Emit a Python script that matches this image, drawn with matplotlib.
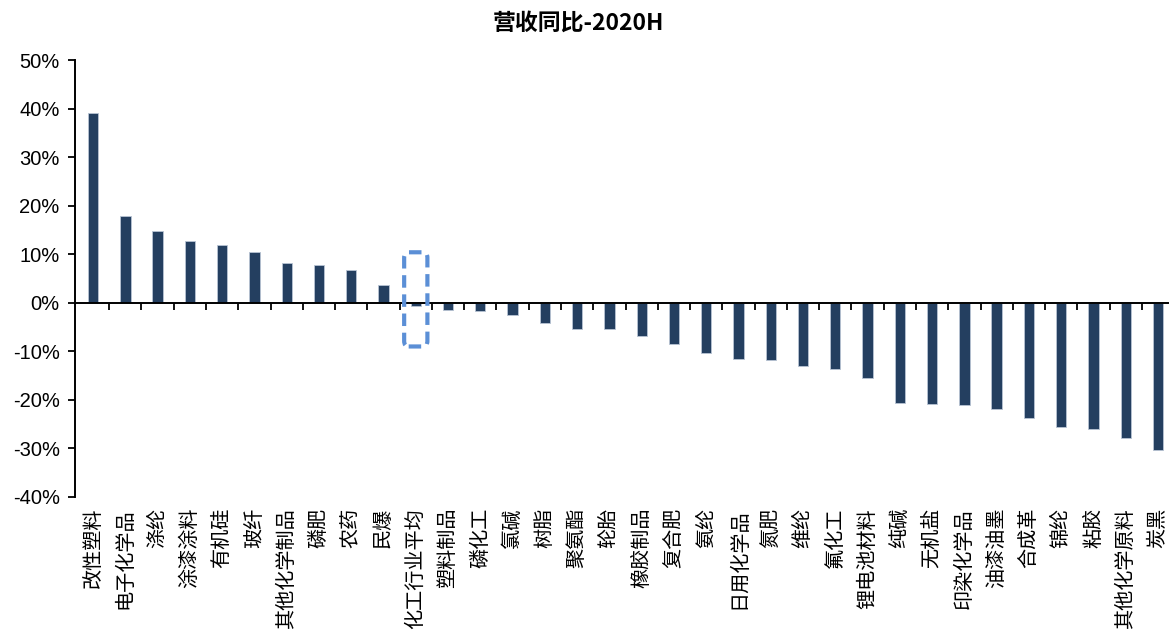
import matplotlib
matplotlib.use("Agg")
import matplotlib.pyplot as plt
from matplotlib.patches import FancyBboxPatch
from matplotlib.ticker import FuncFormatter, FixedLocator
import matplotlib.transforms as mtransforms

plt.rcParams['font.family'] = ['Noto Sans CJK SC', 'DejaVu Sans']

categories = [
    "改性塑料", "电子化学品", "涤纶", "涂漆涂料", "有机硅", "玻纤", "其他化学制品",
    "磷肥", "农药", "民爆", "化工行业平均", "塑料制品", "磷化工", "氯碱", "树脂",
    "聚氨酯", "轮胎", "橡胶制品", "复合肥", "氨纶", "日用化学品", "氮肥", "维纶",
    "氟化工", "锂电池材料", "纯碱", "无机盐", "印染化学品", "油漆油墨", "合成革",
    "锦纶", "粘胶", "其他化学原料", "炭黑",
]
revenue_yoy = [
    39.1, 17.9, 14.7, 12.8, 11.9, 10.5, 8.1, 7.8, 6.8, 3.6, -0.7, -1.4, -1.6,
    -2.5, -4.2, -5.3, -5.3, -6.9, -8.4, -10.3, -11.6, -11.7, -13.0, -13.7,
    -15.4, -20.6, -20.9, -21.1, -21.8, -23.8, -25.6, -26.0, -27.9, -30.3,
]
highlight = "化工行业平均"
yticks = [50, 40, 30, 20, 10, 0, -10, -20, -30, -40]

bar_color = "#243F60"
box_color = "#5B8FD6"

fig = plt.figure(figsize=(11.70, 6.37), dpi=100)
ax = fig.add_axes([0.0641, 0.2198, 0.9342, 0.686])

x = list(range(len(categories)))
ax.bar(x, revenue_yoy, width=0.32, color=bar_color, edgecolor="#B8C4D4",
       linewidth=0.6, zorder=2)

ax.set_ylim(-40, 50)
ax.set_xlim(-0.56, len(categories) - 0.69)
ax.yaxis.set_major_locator(FixedLocator(yticks))
ax.yaxis.set_major_formatter(FuncFormatter(lambda v, _: f"{v:.0f}%"))
ax.tick_params(axis="y", direction="out", length=5, width=1.3,
               labelsize=14.5, pad=6)
for lab in ax.get_yticklabels():
    lab.set_fontfamily(["Liberation Sans", "DejaVu Sans"])

# category separators hang below the zero line
ax.spines["bottom"].set_position(("data", 0))
ax.set_xticks([i + 0.5 for i in range(len(categories) - 1)])
ax.set_xticklabels([])
ax.tick_params(axis="x", direction="out", length=5, width=1.3)

for side in ("top", "right"):
    ax.spines[side].set_visible(False)
for side in ("left", "bottom"):
    ax.spines[side].set_linewidth(1.4)
    ax.spines[side].set_color("black")

# vertical category names beneath the plot area
trans = mtransforms.blended_transform_factory(ax.transData, ax.transAxes)
for i, name in enumerate(categories):
    ax.text(i, -0.025, name, transform=trans, rotation=90, ha="center",
            va="top", fontsize=14.5, color="black")

# dashed frame around the industry average
hi = categories.index(highlight)
frame = FancyBboxPatch((hi - 0.36, -9.0), 0.72, 19.4,
                       boxstyle="round,pad=0,rounding_size=0.14",
                       mutation_aspect=8,
                       fill=False, edgecolor=box_color, linewidth=3,
                       linestyle=(0, (3, 1.6)), zorder=3)
ax.add_patch(frame)

fig.text(0.4945, 0.963, "营收同比-2020H", ha="center", va="center",
         fontsize=16.5, fontweight="bold")

fig.savefig("out.png", dpi=100, facecolor="white")
